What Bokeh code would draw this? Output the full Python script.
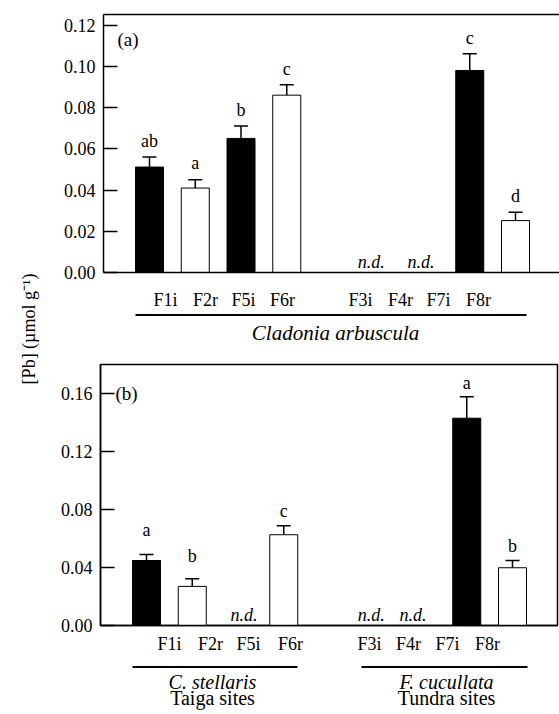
import math
from bokeh.plotting import figure
from bokeh.models import (Range1d, FixedTicker, CustomJSTickFormatter, LinearAxis,
                          Label, LabelSet, Whisker, TeeHead, ColumnDataSource,
                          PrintfTickFormatter)
from bokeh.core.properties import value
from bokeh.layouts import row, column
from bokeh.embed import file_html
from bokeh.resources import INLINE

# ---------------- data ----------------
sites_a = ["F1i", "F2r", "F5i", "F6r", "F3i", "F4r", "F7i", "F8r"]
slots = [0, 1, 2, 3, 5, 6, 7, 8]
pb_a = [0.0512, 0.0410, 0.0651, 0.0861, None, None, 0.0981, 0.0252]
se_a = [0.0049, 0.0040, 0.0060, 0.0050, None, None, 0.0081, 0.0040]
letters_a = ["ab", "a", "b", "c", "", "", "c", "d"]

sites_b = ["F1i", "F2r", "F5i", "F6r", "F3i", "F4r", "F7i", "F8r"]
pb_b = [0.0449, 0.0270, None, 0.0627, None, None, 0.1432, 0.0399]
se_b = [0.0041, 0.0053, None, 0.0062, None, None, 0.0148, 0.0050]
letters_b = ["a", "b", "", "c", "", "", "a", "b"]

yticks_a = [0.00, 0.02, 0.04, 0.06, 0.08, 0.10, 0.12]
yticks_b = [0.00, 0.04, 0.08, 0.12, 0.16]

species_a = "Cladonia arbuscula"
species_b = ["C. stellaris", "F. cucullata"]
sites_type_b = ["Taiga sites", "Tundra sites"]
nd_text = "n.d."
ylabel = "[Pb] (\u00b5mol g\u207b\u00b9)"

# ---------------- layout (pixel) constants ----------------
FONT = "Liberation Serif"
SLOT_W = 45.75
BAR_W = 28 / SLOT_W
PANEL_X0 = 48          # page x where the panel column starts
PAGE_W = 559


def fill_of(site):
    return "black" if site.endswith("i") else "white"


def build_panel(sites, vals, errs, letters, yticks, ymax,
                width, height, mb_left, mb_right, mb_top, mb_bottom,
                frame_left_px, frame_right_px, frame_bottom_px, slot0_px,
                tick_px, tick_standoff, letter_dy, nd_dx, outline):
    x0 = (frame_left_px - slot0_px) / SLOT_W
    x1 = (frame_right_px - slot0_px) / SLOT_W
    frame_h = height - mb_top - mb_bottom
    ypp = ymax / frame_h

    def X(px):
        return (px - slot0_px) / SLOT_W

    def Y(py):
        return (frame_bottom_px - py) * ypp

    p = figure(width=width, height=height, output_backend="svg", toolbar_location=None,
               x_range=Range1d(x0, x1), y_range=Range1d(0, ymax), frame_align=False,
               min_border_left=mb_left, min_border_right=mb_right,
               min_border_top=mb_top, min_border_bottom=mb_bottom)
    p.grid.visible = False
    p.background_fill_color = "white"
    p.border_fill_color = "white"
    ya = p.left[0]
    xa = p.below[0]
    if outline:
        p.outline_line_color = "black"
        p.outline_line_width = 1.5
    else:
        p.outline_line_color = None
        top = LinearAxis(ticker=FixedTicker(ticks=[]), major_tick_in=0, major_tick_out=0,
                         minor_tick_in=0, minor_tick_out=0, axis_line_width=1.5,
                         axis_line_color="black")
        p.add_layout(top, "above")

    # y axis
    ya.ticker = FixedTicker(ticks=yticks)
    ya.formatter = PrintfTickFormatter(format="%.2f")
    ya.major_tick_in = 14
    ya.major_tick_out = 0
    ya.minor_tick_line_color = None
    ya.major_tick_line_width = 1.5
    ya.axis_line_width = 1.5
    ya.major_label_text_font = FONT
    ya.major_label_text_font_size = "18px"
    ya.major_label_text_color = "black"
    ya.major_label_standoff = 8

    # x axis with site labels
    tpos = [X(t) for t in tick_px]
    xa.ticker = FixedTicker(ticks=tpos)
    xa.formatter = CustomJSTickFormatter(args=dict(names=sites), code="return names[index];")
    xa.major_tick_in = 0
    xa.major_tick_out = 0
    xa.minor_tick_line_color = None
    xa.axis_line_width = 1.5
    xa.major_label_text_font = FONT
    xa.major_label_text_font_size = "18px"
    xa.major_label_text_color = "black"
    xa.major_label_standoff = tick_standoff

    # bars
    bx, bt, be, bf, bl, bdy = [], [], [], [], [], []
    ndx, ndoff = [], []
    for s, v, e, l, sl, dy, dx in zip(sites, vals, errs, letters, slots, letter_dy, nd_dx):
        if v is None:
            ndx.append(sl)
            ndoff.append(dx)
        else:
            bx.append(sl); bt.append(v); be.append(v + e); bf.append(fill_of(s))
            bl.append(l); bdy.append(dy)
    src = ColumnDataSource(dict(x=bx, top=bt, err=be, fill=bf, lab=bl, dy=bdy))
    p.vbar(x="x", top="top", width=BAR_W, bottom=0, fill_color="fill",
           line_color="black", line_width=1, source=src)
    p.add_layout(Whisker(base="x", upper="err", lower="top", source=src,
                         upper_head=TeeHead(size=14, line_width=1.5, line_color="black"),
                         lower_head=None, line_width=1.5, line_color="black"))
    p.add_layout(LabelSet(x="x", y="err", text="lab", y_offset="dy", source=src,
                          text_align="center", text_baseline="alphabetic",
                          text_font=FONT, text_font_size="18px", text_color="black"))
    ndsrc = ColumnDataSource(dict(x=ndx, y=[0] * len(ndx), t=[nd_text] * len(ndx), dx=ndoff))
    p.add_layout(LabelSet(x="x", y="y", text="t", x_offset="dx", y_offset=5, source=ndsrc,
                          text_align="center", text_baseline="alphabetic",
                          text_font=FONT, text_font_style="italic",
                          text_font_size="18px", text_color="black"))
    return p, X, Y


def strip(top_px, bottom_px):
    s = figure(width=PAGE_W - PANEL_X0, height=bottom_px - top_px, output_backend="svg",
               toolbar_location=None, x_range=Range1d(PANEL_X0, PAGE_W),
               y_range=Range1d(bottom_px, top_px), frame_align=False,
               min_border_left=0, min_border_right=0, min_border_top=0, min_border_bottom=0)
    s.axis.visible = False
    s.grid.visible = False
    s.outline_line_color = None
    return s


# ---------------- panel (a) ----------------
pa, XA, YA = build_panel(
    sites_a, pb_a, se_a, letters_a, yticks_a, 262 * 0.02 / 41.83,
    width=511, height=312, mb_left=55, mb_right=0, mb_top=14, mb_bottom=36,
    frame_left_px=103, frame_right_px=559, frame_bottom_px=276, slot0_px=149,
    tick_px=[165, 205, 243, 282, 360, 400, 438, 478], tick_standoff=17,
    letter_dy=[10, 11, 10, 10, 0, 0, 10, 10], nd_dx=[0, 0, 0, 0, -7, -3, 0, 0],
    outline=False)
pa.add_layout(Label(x=XA(117), y=YA(39), text="(a)", text_align="left", text_baseline="middle",
                    text_font=FONT, text_font_size="19px", text_color="black"))

sa = strip(312, 354)
sa.segment(x0=[135], y0=[314.5], x1=[526], y1=[314.5], line_width=2, line_color="black")
sa.text(x=[335], y=[332], text=[species_a], text_align="center", text_baseline="alphabetic",
        text_font=value(FONT), text_font_style="italic", text_font_size="21px",
        text_color="black")

# ---------------- panel (b) ----------------
pbp, XB, YB = build_panel(
    sites_b, pb_b, se_b, letters_b, yticks_b, 261 * 0.04 / 57.9,
    width=511, height=308, mb_left=52, mb_right=2, mb_top=10, mb_bottom=37,
    frame_left_px=100, frame_right_px=557, frame_bottom_px=625, slot0_px=146,
    tick_px=[169, 210, 248, 290, 369, 408, 447, 487], tick_standoff=8,
    letter_dy=[19, 17, 0, 9, 0, 0, 8, 9], nd_dx=[0, 0, 6, 0, -4, -8, 0, 0],
    outline=True)
pbp.add_layout(Label(x=XB(115), y=YB(393), text="(b)", text_align="left", text_baseline="middle",
                     text_font=FONT, text_font_size="19px", text_color="black"))

sb = strip(662, 714)
group_x = [(132, 297, 212), (361, 527, 446)]
sb.segment(x0=[g[0] for g in group_x], y0=[666.5, 666.5], x1=[g[1] for g in group_x],
           y1=[666.5, 666.5], line_width=2, line_color="black")
sb.text(x=[g[2] for g in group_x], y=[681, 681], text=species_b, text_align="center",
        text_baseline="alphabetic", text_font=value(FONT), text_font_style="italic",
        text_font_size="20px", text_color="black")
sb.text(x=[g[2] for g in group_x], y=[697, 697], text=sites_type_b, text_align="center",
        text_baseline="alphabetic", text_font=value(FONT), text_font_size="20px",
        text_color="black")

# ---------------- y label strip ----------------
pl = figure(width=PANEL_X0, height=714, output_backend="svg", toolbar_location=None,
            x_range=Range1d(0, PANEL_X0), y_range=Range1d(0, 714), frame_align=False,
            min_border_left=0, min_border_right=0, min_border_top=0, min_border_bottom=0)
pl.axis.visible = False
pl.grid.visible = False
pl.outline_line_color = None
pl.add_layout(Label(x=28, y=714 - 328.5, text=ylabel, angle=math.pi / 2,
                    text_align="center", text_baseline="middle",
                    text_font=FONT, text_font_size="18px", text_color="black"))

layout = row(pl, column(pa, sa, pbp, sb))
open("out.html", "w").write(file_html(layout, INLINE))
